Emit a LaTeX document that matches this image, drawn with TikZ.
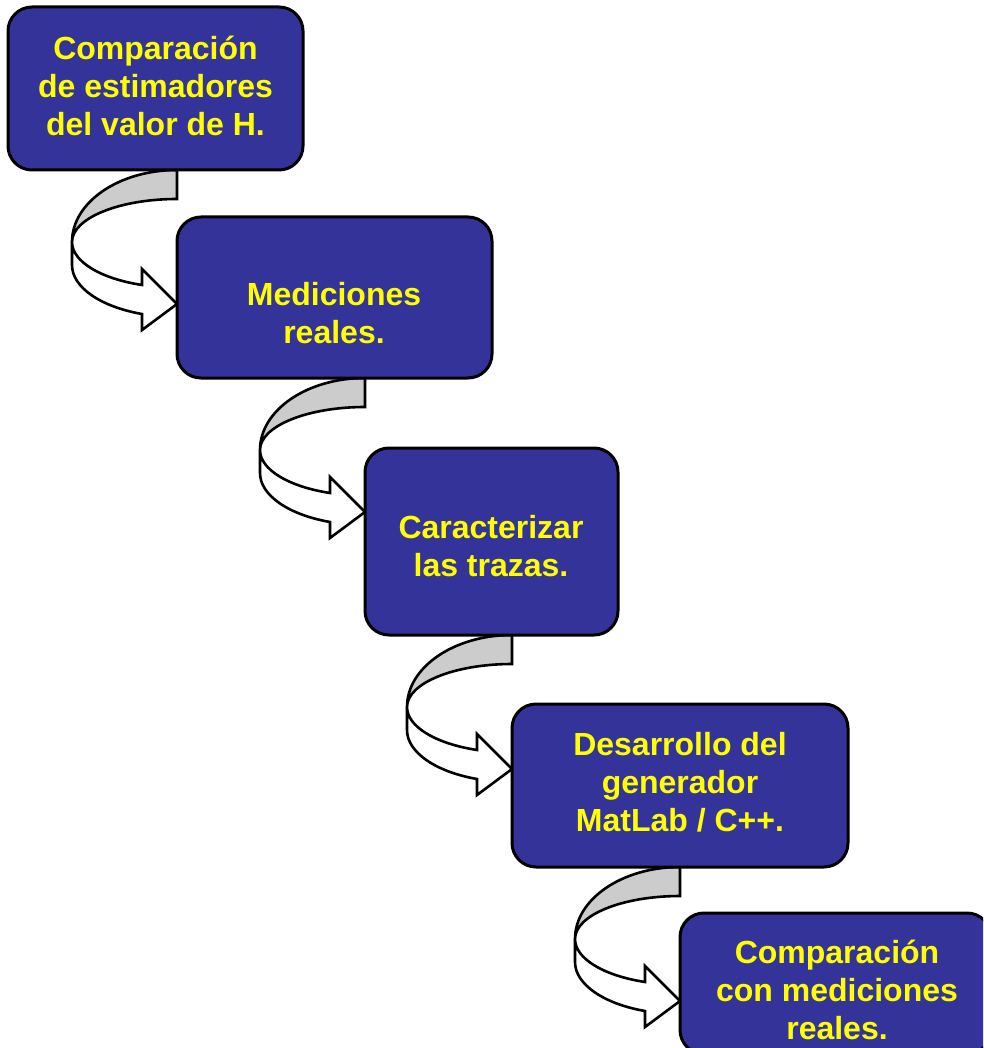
\documentclass[tikz,border=0pt]{standalone}
\usepackage{fontspec}
\setmainfont{Liberation Sans}
\usetikzlibrary{calc}

\definecolor{boxblue}{RGB}{51,51,153}
\definecolor{bandgrey}{RGB}{204,204,204}
\definecolor{labelyellow}{RGB}{255,255,0}

\pgfdeclarelayer{paper}
\pgfdeclarelayer{arrows}
\pgfsetlayers{paper,arrows,main}

\tikzset{
  stage/.style={draw=black, line width=3pt, fill=boxblue, rounded corners=24pt,
    inner sep=0pt, outer sep=0pt, anchor=north west},
  stagetext/.style={text=labelyellow, font=\bfseries\fontsize{32}{38}\selectfont,
    align=center, inner sep=0pt},
  arrowline/.style={draw=black, line width=2.6pt, line join=miter}
}

% Curved "turn right" arrow that leaves the bottom of box #1
% and points into the left side of box #2.
\newcommand\bendarrow[2]{%
  \coordinate (o) at (#1.south -| #2.west);
  \begin{scope}[shift={(o)}]
    % back face of the band (grey)
    \filldraw[arrowline, fill=bandgrey] (0,0)
      arc[start angle=90, end angle=180, x radius=105, y radius=72]
      arc[start angle=180, end angle=90, x radius=105, y radius=43] -- cycle;
    % front face with the arrow head (white)
    \filldraw[arrowline, fill=white] (-105,-72)
      arc[start angle=180, end angle=250.53, x radius=105, y radius=45.6]
      -- (-35,-99) -- (0,-134) -- (-35,-160) -- (-35,-144)
      arc[start angle=250.53, end angle=180, x radius=105, y radius=52]
      -- cycle;
  \end{scope}}

\begin{document}
\begin{tikzpicture}[x=1pt, y=1pt]
  \useasboundingbox (0,0) rectangle (983,-1048);
  \begin{pgfonlayer}{paper}
    \fill[white] (0,0) rectangle (983,-1048);
  \end{pgfonlayer}
  \clip (0,0) rectangle (983,-1048);

  % stages
  \node[stage, minimum width=295pt, minimum height=163pt] (b1) at (8,-7) {};
  \node[stage, minimum width=315pt, minimum height=161pt] (b2) at (177,-217) {};
  \node[stage, minimum width=253pt, minimum height=187pt] (b3) at (365,-448) {};
  \node[stage, minimum width=336pt, minimum height=163pt] (b4) at (512,-704) {};
  \node[stage, minimum width=311pt, minimum height=141pt] (b5) at (680,-913) {};

  % stage captions
  \node[stagetext] (t1) at (155.5,-86) {Comparación\\de estimadores\\del valor de H.};
  \node[stagetext] (t2) at (334,-313) {Mediciones\\reales.};
  \node[stagetext] (t3) at (491,-546) {Caracterizar\\las trazas.};
  \node[stagetext] (t4) at (680,-782) {Desarrollo del\\generador\\MatLab / C++.};
  \node[stagetext] (t5) at (837,-990) {Comparación\\con mediciones\\reales.};

  % connectors between consecutive stages
  \begin{pgfonlayer}{arrows}
    \bendarrow{b1}{b2}
    \bendarrow{b2}{b3}
    \bendarrow{b3}{b4}
    \bendarrow{b4}{b5}
  \end{pgfonlayer}
\end{tikzpicture}
\end{document}
